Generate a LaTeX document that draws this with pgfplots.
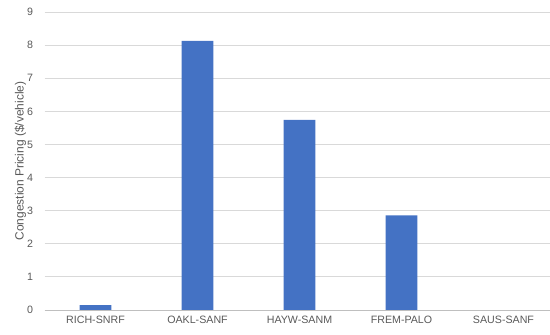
\documentclass[border=0pt]{standalone}
\usepackage{pgfplots}
\pgfplotsset{compat=1.18}
\usepackage{fontspec}
\setmainfont{Liberation Sans}

\definecolor{barblue}{HTML}{4472C4}
\definecolor{labelgray}{HTML}{595959}
\definecolor{gridgray}{HTML}{D9D9D9}
\definecolor{axisgray}{HTML}{BFBFBF}

\begin{document}
\begin{tikzpicture}
\begin{axis}[
  at={(0,0)}, anchor=south west,
  scale only axis,
  width=510bp, height=298bp,
  xmin=-0.5, xmax=4.5,
  ymin=0, ymax=9,
  ytick={0,1,...,9},
  xtick={0,1,2,3,4},
  xticklabels={RICH-SNRF,OAKL-SANF,HAYW-SANM,FREM-PALO,SAUS-SANF},
  major tick length=0pt,
  axis line style={draw=none},
  ymajorgrids,
  grid style={gridgray, line width=0.8pt},
  ticklabel style={font=\fontsize{10.7}{12}\selectfont, text=labelgray},
  /pgf/number format/assume math mode=true,
  yticklabel style={xshift=-8bp},
  xticklabel style={yshift=-3bp},
  ylabel={Congestion Pricing (\$/vehicle)},
  ylabel style={font=\fontsize{12}{14}\selectfont, text=labelgray, yshift=-6bp},
  clip=false,
]
\addplot[ybar, bar width=0.31, fill=barblue, draw=none] coordinates {
  (0,0.15) (1,8.13) (2,5.74) (3,2.86) (4,0)
};
\draw[axisgray, line width=0.8pt] (rel axis cs:0,0) -- (rel axis cs:1,0);
\end{axis}
% page frame
\pgfresetboundingbox
\useasboundingbox (-44.5bp,-25bp) rectangle (505.5bp,310bp);
\end{tikzpicture}
\end{document}
